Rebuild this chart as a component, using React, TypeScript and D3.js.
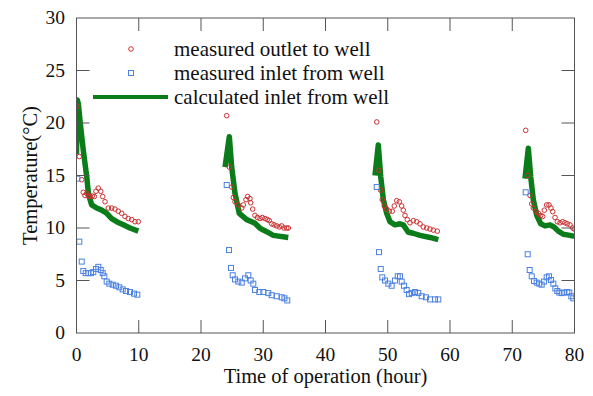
import * as d3 from "d3";

// [hour, °C], one array per daily run
const outletRun1: [number, number][] = [
  [0.1, 21.6], [0.45, 16.8], [0.84, 14.6], [1.09, 13.4], [1.37, 13.1], [1.64, 13.3], [1.9, 13.1],
  [2.17, 13.0], [2.54, 13.05], [2.86, 13.0], [3.13, 13.5], [3.5, 13.8], [3.89, 13.5], [4.21, 13.0],
  [4.58, 12.5], [5.11, 11.9], [5.65, 11.9], [6.18, 11.8], [6.71, 11.6], [7.26, 11.4], [7.79, 11.1],
  [8.32, 10.9], [8.87, 10.8], [9.4, 10.6], [9.93, 10.6],
];
const inletRun1: [number, number][] = [
  [0.13, 14.7], [0.45, 8.7], [0.84, 6.8], [1.09, 5.9], [1.48, 5.7], [1.9, 5.7], [2.33, 5.7],
  [2.7, 5.8], [3.13, 6.1], [3.5, 6.3], [3.89, 6.0], [4.21, 5.7], [4.47, 5.4], [4.85, 4.9],
  [5.27, 4.7], [5.82, 4.6], [6.35, 4.5], [6.88, 4.35], [7.42, 4.15], [7.95, 4.0], [8.59, 3.9],
  [9.24, 3.75], [9.77, 3.65],
];
const calcRun1: [number, number][] = [
  [0.0, 17.0], [0.13, 22.2], [0.3, 21.8], [0.6, 20.0], [1.09, 17.4], [1.64, 14.9], [1.93, 13.2],
  [2.44, 12.2], [3.24, 11.9], [4.05, 11.7], [4.85, 11.4], [5.65, 10.9], [6.46, 10.6], [7.52, 10.3],
  [8.59, 10.0], [9.93, 9.7],
];

const outletRun2: [number, number][] = [
  [24.13, 20.7], [24.55, 15.8], [24.93, 13.9], [25.19, 12.9], [25.46, 12.5], [25.99, 12.2],
  [26.54, 11.9], [26.8, 12.2], [27.23, 12.7], [27.5, 13.0], [27.87, 12.8], [27.98, 12.4],
  [28.3, 11.8], [28.67, 11.2], [29.05, 11.0], [29.48, 10.9], [29.85, 11.0], [30.28, 10.9],
  [30.65, 10.8], [30.97, 10.7], [31.36, 10.4], [31.73, 10.3], [32.16, 10.2], [32.58, 10.1],
  [32.96, 10.2], [33.33, 10.0], [33.77, 10.0], [34.03, 10.0],
];
const inletRun2: [number, number][] = [
  [24.13, 14.1], [24.5, 7.9], [24.82, 6.2], [25.09, 5.5], [25.46, 5.1], [25.99, 4.9], [26.54, 4.8],
  [27.07, 5.2], [27.6, 5.5], [27.98, 5.0], [28.4, 4.7], [28.67, 4.1], [29.37, 3.9], [30.01, 3.9],
  [30.81, 3.8], [31.36, 3.6], [32.16, 3.5], [32.96, 3.4], [33.4, 3.3], [33.86, 3.1],
];
const calcRun2: [number, number][] = [
  [23.86, 15.8], [24.55, 18.7], [24.93, 15.8], [25.46, 13.3], [26.15, 11.4], [27.34, 10.8],
  [28.14, 10.6], [28.67, 10.45], [29.48, 9.97], [30.55, 9.65], [31.61, 9.3], [34.02, 9.1],
];

const outletRun3: [number, number][] = [
  [48.23, 20.1], [48.59, 15.5], [48.87, 13.6], [49.12, 12.7], [49.45, 12.1], [49.83, 11.8],
  [50.25, 11.6], [50.73, 11.6], [51.05, 12.1], [51.44, 12.6], [51.86, 12.5], [52.24, 12.1],
  [52.5, 11.7], [52.77, 11.2], [53.14, 10.8], [53.57, 10.5], [54.1, 10.7], [54.65, 10.6],
  [55.18, 10.4], [55.71, 10.1], [56.26, 10.0], [56.79, 9.9], [57.32, 9.8], [57.96, 9.7],
];
const inletRun3: [number, number][] = [
  [48.23, 13.9], [48.59, 7.7], [48.87, 6.1], [49.12, 5.3], [49.56, 5.0], [50.09, 4.7], [50.63, 4.5],
  [51.16, 5.0], [51.6, 5.4], [51.97, 5.4], [52.24, 4.9], [52.61, 4.5], [53.04, 4.1], [53.41, 3.7],
  [53.85, 3.8], [54.38, 3.9], [54.91, 3.8], [55.45, 3.5], [56.14, 3.4], [56.79, 3.2], [57.59, 3.2],
  [58.12, 3.2],
];
const calcRun3: [number, number][] = [
  [47.95, 15.0], [48.48, 17.9], [48.87, 14.9], [49.29, 12.7], [49.83, 11.4], [50.36, 10.6],
  [51.16, 10.3], [51.97, 10.4], [52.5, 10.3], [53.3, 9.6], [54.1, 9.5], [55.18, 9.3], [56.79, 9.1],
  [58.12, 8.9],
];

const outletRun4: [number, number][] = [
  [72.16, 19.3], [72.48, 15.0], [72.85, 13.1], [73.13, 12.3], [73.38, 11.9], [73.82, 11.6],
  [74.19, 11.4], [74.57, 11.2], [74.89, 11.1], [75.15, 11.7], [75.53, 12.2], [75.9, 12.2],
  [76.22, 11.9], [76.5, 11.55], [76.87, 11.0], [77.24, 10.6], [77.67, 10.5], [78.1, 10.6],
  [78.47, 10.5], [78.84, 10.4], [79.28, 10.3], [79.71, 10.0], [79.97, 9.9],
];
const inletRun4: [number, number][] = [
  [72.16, 13.4], [72.48, 7.5], [72.8, 6.0], [73.13, 5.4], [73.5, 4.95], [73.93, 4.8], [74.35, 4.7],
  [74.73, 4.6], [75.1, 4.9], [75.53, 5.3], [75.9, 5.4], [76.22, 5.05], [76.6, 4.7], [76.92, 4.25],
  [77.24, 4.0], [77.56, 3.85], [77.94, 3.8], [78.36, 3.85], [78.84, 3.9], [79.16, 3.85],
  [79.49, 3.5], [79.81, 3.3],
];
const calcRun4: [number, number][] = [
  [72.05, 14.7], [72.58, 17.6], [72.96, 14.9], [73.38, 12.7], [73.93, 11.2], [74.57, 10.4],
  [75.26, 10.2], [76.06, 10.3], [76.71, 10.1], [77.4, 9.7], [78.2, 9.4], [79.28, 9.3], [79.97, 9.2],
];

const outletRuns = [outletRun1, outletRun2, outletRun3, outletRun4];
const inletRuns = [inletRun1, inletRun2, inletRun3, inletRun4];
const calcRuns = [calcRun1, calcRun2, calcRun3, calcRun4];

const xTicks = [0, 10, 20, 30, 40, 50, 60, 70, 80];
const yTicks = [0, 5, 10, 15, 20, 25, 30];
const legendLabels = ["measured outlet to well", "measured inlet from well", "calculated inlet from well"];

const W = 593;
const H = 396;
const left = 76.5, right = 574.5, top = 18, bottom = 333;
const tickLen = 13;
const axisColor = "#555";
const red = "#cc3030";
const blue = "#4a80e0";
const green = "#0a7d1a";
const font = "'Liberation Serif', 'Times New Roman', serif";

export default function App() {
  const x = d3.scaleLinear().domain([0, 80]).range([left, right]);
  const y = d3.scaleLinear().domain([0, 30]).range([bottom, top]);
  const line = d3.line<[number, number]>().x(d => x(d[0])).y(d => y(d[1]));

  return (
    <svg width={W} height={H} style={{ position: "absolute", left: 0, top: 0, background: "#fff" }}
      fontFamily={font}>
      <defs>
        <clipPath id="plot">
          <rect x={left} y={top} width={right - left} height={bottom - top} />
        </clipPath>
      </defs>

      <g clipPath="url(#plot)">
        {calcRuns.map((run, i) => (
          <path key={"c" + i} d={line(run) ?? ""} fill="none" stroke={green} strokeWidth={5.5}
            strokeLinejoin="round" strokeLinecap="butt" />
        ))}
        {outletRuns.map((run, i) => run.map((d, j) => (
          <circle key={`o${i}-${j}`} cx={x(d[0])} cy={y(d[1])} r={2.3} fill="none" stroke={red} strokeWidth={1} />
        )))}
        {inletRuns.map((run, i) => run.map((d, j) => (
          <rect key={`i${i}-${j}`} x={x(d[0]) - 2.5} y={y(d[1]) - 2.5} width={5} height={5}
            fill="none" stroke={blue} strokeWidth={1} />
        )))}
      </g>

      {/* frame and inward ticks */}
      <rect x={left} y={top} width={right - left} height={bottom - top} fill="none" stroke={axisColor} strokeWidth={1} />
      {xTicks.slice(1, -1).map(t => (
        <g key={"xt" + t} stroke={axisColor}>
          <line x1={x(t)} x2={x(t)} y1={bottom} y2={bottom - tickLen} />
          <line x1={x(t)} x2={x(t)} y1={top} y2={top + tickLen} />
        </g>
      ))}
      {yTicks.slice(1, -1).map(t => (
        <g key={"yt" + t} stroke={axisColor}>
          <line x1={left} x2={left + tickLen} y1={y(t)} y2={y(t)} />
          <line x1={right} x2={right - tickLen} y1={y(t)} y2={y(t)} />
        </g>
      ))}

      {xTicks.map(t => (
        <text key={"xl" + t} x={x(t)} y={361} textAnchor="middle" fontSize={19.5} fill="#111">{t}</text>
      ))}
      {yTicks.map(t => (
        <text key={"yl" + t} x={65} y={y(t)} dy="0.33em" textAnchor="end" fontSize={19.5} fill="#111">{t}</text>
      ))}

      <text x={(left + right) / 2} y={383} textAnchor="middle" fontSize={20.5} fill="#111">Time of operation (hour)</text>
      <text transform={`translate(37,${(top + bottom) / 2}) rotate(-90)`} textAnchor="middle" fontSize={20.5} fill="#111">
        Temperature(°C)
      </text>

      {/* legend */}
      <circle cx={131} cy={49} r={2.3} fill="none" stroke={red} strokeWidth={1} />
      <rect x={128.5} y={70.5} width={5} height={5} fill="none" stroke={blue} strokeWidth={1} />
      <line x1={93} x2={168} y1={97} y2={97} stroke={green} strokeWidth={4} />
      {legendLabels.map((label, i) => (
        <text key={label} x={174} y={56 + i * 24} fontSize={21} fill="#111">{label}</text>
      ))}
    </svg>
  );
}
